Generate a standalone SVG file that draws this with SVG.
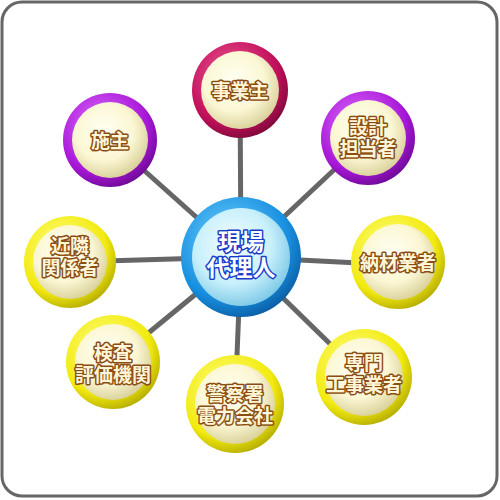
<svg xmlns="http://www.w3.org/2000/svg" width="500" height="500" viewBox="0 0 500 500">
<defs>
<radialGradient id="gInner" cx="0.42" cy="0.38" r="0.65">
<stop offset="0" stop-color="#fffff2"/>
<stop offset="0.6" stop-color="#fbf7d4"/>
<stop offset="1" stop-color="#d8cf98"/>
</radialGradient>
<radialGradient id="gInnerC" cx="0.42" cy="0.38" r="0.65">
<stop offset="0" stop-color="#f4fdff"/>
<stop offset="0.6" stop-color="#c8f0fb"/>
<stop offset="1" stop-color="#7cc8e6"/>
</radialGradient>
<radialGradient id="gYellow" cx="0.4" cy="0.35" r="0.7">
<stop offset="0" stop-color="#ffff80"/>
<stop offset="0.7" stop-color="#f2ea10"/>
<stop offset="1" stop-color="#b0a800"/>
</radialGradient>
<radialGradient id="gPurple" cx="0.4" cy="0.35" r="0.7">
<stop offset="0" stop-color="#e070ff"/>
<stop offset="0.7" stop-color="#a818d8"/>
<stop offset="1" stop-color="#6a0890"/>
</radialGradient>
<radialGradient id="gMagenta" cx="0.4" cy="0.35" r="0.7">
<stop offset="0" stop-color="#f05a98"/>
<stop offset="0.7" stop-color="#c0105a"/>
<stop offset="1" stop-color="#7a0838"/>
</radialGradient>
<radialGradient id="gBlue" cx="0.4" cy="0.35" r="0.7">
<stop offset="0" stop-color="#70d0ff"/>
<stop offset="0.7" stop-color="#1890e0"/>
<stop offset="1" stop-color="#0a5aa0"/>
</radialGradient>
</defs>
<style>
.frame{fill:#ffffff;stroke:#666666;stroke-width:3}
.conn{stroke:#666666;stroke-width:5;stroke-linecap:butt}
.inner{fill:url(#gInner)}
.innerC{fill:url(#gInnerC)}
.lbl{font-family:"Liberation Sans","Noto Sans CJK JP",sans-serif;font-weight:bold;font-size:19px;fill:#fff6d8;stroke:#8a4e14;stroke-width:3;paint-order:stroke;stroke-linejoin:round;text-anchor:middle}
.lblC{font-family:"Liberation Sans","Noto Sans CJK JP",sans-serif;font-weight:bold;font-size:23px;fill:#ffffff;stroke:#1a3cc8;stroke-width:3;paint-order:stroke;stroke-linejoin:round;text-anchor:middle}
</style>
<rect class="frame" x="2" y="2" width="495" height="494" rx="20"/>
<g id="connectors">
<line class="conn" x1="241" y1="257" x2="240" y2="90"/>
<line class="conn" x1="241" y1="257" x2="110" y2="140"/>
<line class="conn" x1="241" y1="257" x2="368" y2="138"/>
<line class="conn" x1="241" y1="257" x2="70" y2="262"/>
<line class="conn" x1="241" y1="257" x2="398" y2="265"/>
<line class="conn" x1="241" y1="257" x2="113" y2="362"/>
<line class="conn" x1="241" y1="257" x2="364" y2="377"/>
<line class="conn" x1="241" y1="257" x2="235" y2="404"/>
</g>
<g id="n-jigyonushi">
<circle cx="240" cy="90" r="48" fill="url(#gMagenta)"/>
<circle class="inner" cx="240" cy="90" r="39"/>
<text class="lbl" x="240" y="98">事業主</text>
</g>
<g id="n-seshu">
<circle cx="110" cy="140" r="47" fill="url(#gPurple)"/>
<circle class="inner" cx="110" cy="140" r="38"/>
<text class="lbl" x="110" y="148">施主</text>
</g>
<g id="n-sekkei">
<circle cx="368" cy="138" r="47" fill="url(#gPurple)"/>
<circle class="inner" cx="368" cy="138" r="38"/>
<text class="lbl" x="368" y="134">設計<tspan x="368" dy="22">担当者</tspan></text>
</g>
<g id="n-kinrin">
<circle cx="70" cy="262" r="46" fill="url(#gYellow)"/>
<circle class="inner" cx="70" cy="262" r="37"/>
<text class="lbl" x="70" y="253">近隣<tspan x="70" dy="22">関係者</tspan></text>
</g>
<g id="n-nozai">
<circle cx="398" cy="262" r="47" fill="url(#gYellow)"/>
<circle class="inner" cx="398" cy="262" r="38"/>
<text class="lbl" x="398" y="270">納材業者</text>
</g>
<g id="n-kensa">
<circle cx="113" cy="362" r="47" fill="url(#gYellow)"/>
<circle class="inner" cx="113" cy="362" r="38"/>
<text class="lbl" x="113" y="360">検査<tspan x="113" dy="22">評価機関</tspan></text>
</g>
<g id="n-senmon">
<circle cx="364" cy="377" r="48" fill="url(#gYellow)"/>
<circle class="inner" cx="364" cy="377" r="39"/>
<text class="lbl" x="364" y="370">専門<tspan x="364" dy="22">工事業者</tspan></text>
</g>
<g id="n-keisatsu">
<circle cx="235" cy="404" r="49" fill="url(#gYellow)"/>
<circle class="inner" cx="235" cy="404" r="40"/>
<text class="lbl" x="235" y="401">警察署<tspan x="235" dy="22">電力会社</tspan></text>
</g>
<g id="n-center">
<circle cx="241" cy="257" r="60" fill="url(#gBlue)"/>
<circle class="innerC" cx="241" cy="257" r="49"/>
<text class="lblC" x="241" y="250">現場<tspan x="241" dy="26">代理人</tspan></text>
</g>
</svg>
